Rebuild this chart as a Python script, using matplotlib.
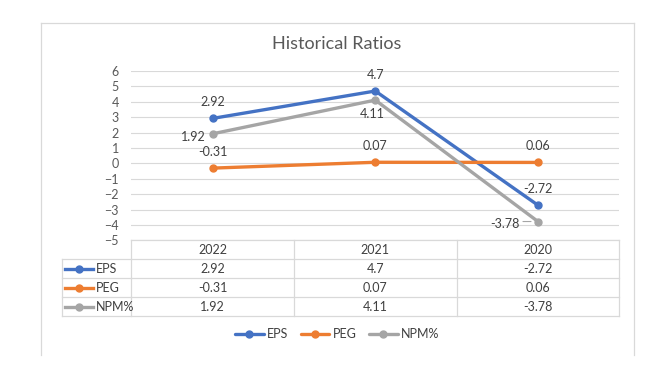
import numpy as np
import matplotlib
matplotlib.use("Agg")
import matplotlib.pyplot as plt
from matplotlib.lines import Line2D

plt.rcParams['font.family'] = ['Lato', 'DejaVu Sans']

# Data
years = ["2022", "2021", "2020"]
series_names = ["EPS", "PEG", "NPM%"]
eps = [2.92, 4.7, -2.72]
peg = [-0.31, 0.07, 0.06]
npm = [1.92, 4.11, -3.78]
colors = ["#4472C4", "#ED7D31", "#A5A5A5"]

W, H = 653, 373
grid_c = "#D9D9D9"
text_c = "#404040"
tick_c = "#595959"


def fx(px):
    return px / W


def fy(py):
    return 1 - py / H


fig = plt.figure(figsize=(W / 100, H / 100), dpi=100)

# chart frame (top, left, right)
fig.add_artist(Line2D([fx(41), fx(634)], [fy(23), fy(23)], color=grid_c, lw=0.9))
fig.add_artist(Line2D([fx(41), fx(41)], [fy(23), fy(355)], color=grid_c, lw=0.9))
fig.add_artist(Line2D([fx(634), fx(634)], [fy(23), fy(355)], color=grid_c, lw=0.9))

fig.text(fx(337), fy(44), "Historical Ratios", ha="center", va="center",
         fontsize=13, color=tick_c)

# plot area
ax_l, ax_r, ax_t, ax_b = 131.3, 619.3, 71, 240.3
ax = fig.add_axes([fx(ax_l), fy(ax_b), (ax_r - ax_l) / W, (ax_b - ax_t) / H])
ax.set_xlim(-0.5, 2.5)
ax.set_ylim(-5, 6)
ax.set_yticks(np.arange(-5, 7, 1))
ax.set_xticks([])
for s in ax.spines.values():
    s.set_visible(False)
ax.grid(axis="y", color=grid_c, lw=0.8)
ax.set_axisbelow(True)
ax.tick_params(axis="y", length=0, pad=9, labelsize=9, labelcolor=tick_c)

x = np.arange(len(years))
data = [eps, peg, npm]
handles = []
for vals, c, name in zip(data, colors, series_names):
    h, = ax.plot(x, vals, color=c, lw=2.4, marker="o", ms=5, label=name,
                 clip_on=False, solid_capstyle="round")
    handles.append(h)

# data labels: (dx, dy, ha) in pixels
placement = {
    0: [(0, 16, "center")] * 3,
    1: [(0, 16, "center")] * 3,
    2: [(-7, -3, "right"), (-3, -14, "center"), (-18, -2.5, "right")],
}
for si, vals in enumerate(data):
    for i, v in enumerate(vals):
        dx, dy, ha = placement[si][i]
        ax.annotate(f"{v:g}", (x[i], v), xytext=(dx, dy), textcoords="offset pixels",
                    ha=ha, va="center", fontsize=9, color=text_c)
# leader line for the last NPM label
ax.annotate("", (x[2], npm[2]), xytext=(-15, 0), textcoords="offset pixels",
            arrowprops=dict(arrowstyle="-", color=colors[2], lw=0.8,
                            shrinkA=0, shrinkB=5))

# data table
tb_l, tb_r, tb_t, tb_b = 62.3, 619.3, 240.3, 316.3
tax = fig.add_axes([fx(tb_l), fy(tb_b), (tb_r - tb_l) / W, (tb_b - tb_t) / H])
col_w = (ax_r - ax_l) / 3
x0 = -0.5 - (ax_l - tb_l) / col_w
tax.set_xlim(x0, 2.5)
tax.set_ylim(4, 0)
tax.axis("off")
lk = dict(color=grid_c, lw=0.9, clip_on=False)
tax.plot([-0.5, 2.5], [0, 0], **lk)
for r in range(1, 5):
    tax.plot([x0, 2.5], [r, r], **lk)
for xv in [-0.5, 0.5, 1.5, 2.5]:
    tax.plot([xv, xv], [0, 4], **lk)
tax.plot([x0, x0], [1, 4], **lk)
for i, yr in enumerate(years):
    tax.text(i, 0.5, yr, ha="center", va="center", fontsize=9, color=text_c)
key_w = 28 / col_w
for r, (vals, c, name) in enumerate(zip(data, colors, series_names)):
    yy = r + 1.5
    kx = x0 + 3 / col_w
    tax.plot([kx, kx + key_w], [yy, yy], color=c, lw=2.4)
    tax.plot([kx + key_w / 2], [yy], color=c, marker="o", ms=5)
    tax.text(kx + key_w + 3 / col_w, yy, name, ha="left", va="center",
             fontsize=9, color=text_c)
    for i, v in enumerate(vals):
        tax.text(i, yy, f"{v:g}", ha="center", va="center", fontsize=9, color=text_c)

# legend
fig.legend(handles=handles, loc="center", bbox_to_anchor=(fx(337), fy(334)),
           ncol=3, frameon=False, fontsize=9, handlelength=2.3, handletextpad=0.25,
           columnspacing=1.0, labelcolor=text_c)

fig.savefig("out.png", dpi=100)
